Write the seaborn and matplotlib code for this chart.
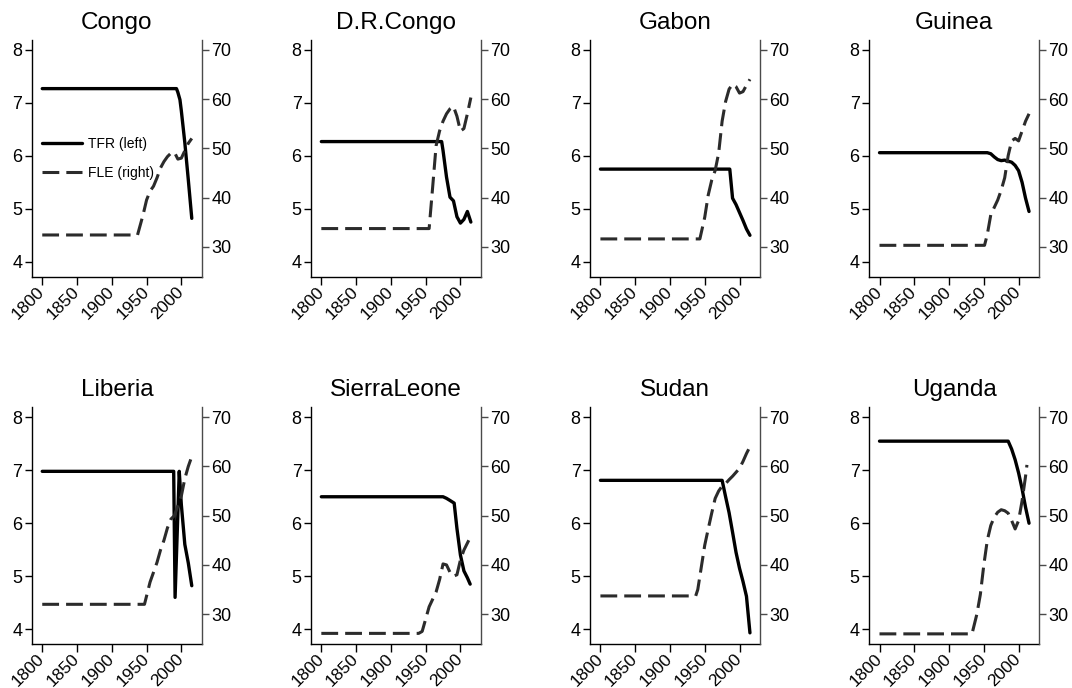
import matplotlib
matplotlib.use("Agg")
import matplotlib.pyplot as plt
from matplotlib.lines import Line2D
import pandas as pd
import seaborn as sns

# Values
countries = ["Congo", "D.R.Congo", "Gabon", "Guinea",
             "Liberia", "SierraLeone", "Sudan", "Uganda"]

congo_tfr_year = [1800, 1993, 1995, 1998, 2000, 2005, 2010, 2015]
congo_tfr = [7.27, 7.27, 7.2, 7.06, 6.85, 6.25, 5.55, 4.82]
congo_fle_year = [1800, 1937, 1945, 1950, 1955, 1960, 1965, 1970, 1975, 1980,
                  1985, 1990, 1995, 2000, 2005, 2010, 2015]
congo_fle = [32.4, 32.4, 36.5, 39.5, 41.3, 42.3, 44, 46, 47.3, 48.3,
             49, 49.2, 47.8, 48, 49.5, 51, 52]

drc_tfr_year = [1800, 1973, 1975, 1980, 1985, 1990, 1995, 2000, 2005, 2010, 2015]
drc_tfr = [6.27, 6.27, 6.1, 5.6, 5.22, 5.15, 4.85, 4.73, 4.8, 4.95, 4.75]
drc_fle_year = [1800, 1955, 1960, 1965, 1970, 1975, 1980, 1985, 1990, 1995,
                2000, 2005, 2010, 2015]
drc_fle = [33.7, 33.7, 42, 50.5, 53.5, 55.5, 57, 58, 58.5, 56.5,
           53.5, 54, 57, 60.3]

gabon_tfr_year = [1800, 1986, 1990, 1995, 2000, 2005, 2010, 2015]
gabon_tfr = [5.75, 5.75, 5.2, 5.08, 4.93, 4.78, 4.62, 4.5]
gabon_fle_year = [1800, 1943, 1950, 1955, 1960, 1965, 1970, 1975, 1980, 1985,
                  1990, 1995, 2000, 2005, 2010, 2015]
gabon_fle = [31.6, 31.6, 36, 40.5, 43.5, 45.5, 49, 55.5, 59.5, 62,
             63, 62.5, 61.2, 61.5, 62.8, 64]

guinea_tfr_year = [1800, 1955, 1960, 1965, 1970, 1975, 1980, 1985, 1990, 1995,
                   2000, 2005, 2010, 2015]
guinea_tfr = [6.06, 6.06, 6.04, 5.98, 5.93, 5.91, 5.92, 5.9, 5.88, 5.82,
              5.72, 5.5, 5.2, 4.95]
guinea_fle_year = [1800, 1951, 1955, 1960, 1965, 1970, 1975, 1980, 1985, 1990,
                   1995, 2000, 2005, 2010, 2015]
guinea_fle = [30.3, 30.3, 32.5, 36.5, 38, 39.5, 41.5, 44, 48.5, 51.5,
              52, 51.5, 53.5, 55.5, 57]

liberia_tfr_year = [1800, 1989, 1991, 1997, 2000, 2005, 2010, 2015]
liberia_tfr = [6.98, 6.98, 4.6, 6.98, 6.35, 5.6, 5.25, 4.82]
liberia_fle_year = [1800, 1947, 1955, 1960, 1965, 1970, 1975, 1980, 1985, 1990,
                    1995, 2000, 2005, 2010, 2015]
liberia_fle = [32, 32, 36.5, 38.5, 40.5, 43, 45, 47.5, 49.3, 50,
               52, 54, 57.5, 60, 62]

sleone_tfr_year = [1800, 1975, 1980, 1985, 1991, 1995, 2000, 2005, 2010, 2014]
sleone_tfr = [6.5, 6.5, 6.47, 6.43, 6.38, 5.9, 5.4, 5.1, 4.97, 4.85]
sleone_fle_year = [1800, 1940, 1945, 1950, 1955, 1960, 1965, 1970, 1975, 1980,
                   1985, 1990, 1995, 2000, 2005, 2012]
sleone_fle = [26.1, 26.1, 26.5, 29, 31.5, 33, 34.5, 37, 40.2, 40,
              38.5, 37.7, 38, 41, 43, 45]

sudan_tfr_year = [1800, 1975, 1980, 1985, 1990, 1995, 2000, 2005, 2010, 2015]
sudan_tfr = [6.81, 6.81, 6.5, 6.2, 5.83, 5.45, 5.15, 4.9, 4.62, 3.93]
sudan_fle_year = [1800, 1937, 1940, 1945, 1950, 1955, 1960, 1965, 1970, 1975,
                  1980, 1985, 1990, 1995, 2000, 2005, 2010, 2015]
sudan_fle = [33.7, 33.7, 35, 39.5, 44, 47.3, 50.5, 53.5, 55, 56,
             56.5, 57.3, 58, 58.8, 59.6, 61, 62.6, 64]

uganda_tfr_year = [1800, 1985, 1990, 1995, 2000, 2005, 2010, 2015]
uganda_tfr = [7.55, 7.55, 7.4, 7.2, 6.95, 6.65, 6.3, 6.0]
uganda_fle_year = [1800, 1933, 1940, 1945, 1950, 1955, 1960, 1965, 1970, 1975,
                   1980, 1985, 1990, 1995, 2000, 2005, 2010, 2012]
uganda_fle = [26, 26, 30, 34, 40, 45, 48, 49.7, 50.7, 51.2,
              51, 50.5, 49, 47.3, 49, 53, 58, 60.3]

year_ticks = [1800, 1850, 1900, 1950, 2000]
tfr_ticks = [4, 5, 6, 7, 8]
fle_ticks = [30, 40, 50, 60, 70]

panels = [
    (congo_tfr_year, congo_tfr, congo_fle_year, congo_fle),
    (drc_tfr_year, drc_tfr, drc_fle_year, drc_fle),
    (gabon_tfr_year, gabon_tfr, gabon_fle_year, gabon_fle),
    (guinea_tfr_year, guinea_tfr, guinea_fle_year, guinea_fle),
    (liberia_tfr_year, liberia_tfr, liberia_fle_year, liberia_fle),
    (sleone_tfr_year, sleone_tfr, sleone_fle_year, sleone_fle),
    (sudan_tfr_year, sudan_tfr, sudan_fle_year, sudan_fle),
    (uganda_tfr_year, uganda_tfr, uganda_fle_year, uganda_fle),
]

sns.set_style("ticks")
plt.rcParams["font.family"] = ["Liberation Sans", "DejaVu Sans"]
plt.rcParams["text.color"] = "black"
plt.rcParams["xtick.color"] = "black"
plt.rcParams["ytick.color"] = "black"
plt.rcParams["axes.linewidth"] = 1.0

fle_dash = (0, (5.5, 2.3))
fle_color = "#2b2b2b"

fig, axes = plt.subplots(2, 4, figsize=(10.72, 6.88), dpi=100)
fig.subplots_adjust(left=0.030, right=0.969, bottom=0.064, top=0.942,
                    wspace=0.648, hspace=0.552)

for ax, name, (ty, tv, fy, fv) in zip(axes.flat, countries, panels):
    tfr_df = pd.DataFrame({"year": ty, "TFR": tv})
    fle_df = pd.DataFrame({"year": fy, "FLE": fv})

    sns.lineplot(data=tfr_df, x="year", y="TFR", ax=ax, color="black", lw=2.4)
    ax2 = ax.twinx()
    sns.lineplot(data=fle_df, x="year", y="FLE", ax=ax2, color=fle_color,
                 lw=2.2, linestyle=fle_dash)

    ax.set_xlim(1785.5, 2029)
    ax.set_ylim(3.72, 8.19)
    ax2.set_ylim(23.95, 72.0)
    ax.set_xticks(year_ticks)
    ax.set_xticklabels([str(y) for y in year_ticks], rotation=45,
                       ha="right", va="center", rotation_mode="anchor")
    ax.set_yticks(tfr_ticks)
    ax2.set_yticks(fle_ticks)
    ax.set_xlabel("")
    ax.set_ylabel("")
    ax2.set_ylabel("")
    ax2.set_xlabel("")

    ax.spines["top"].set_visible(False)
    ax.spines["right"].set_visible(False)
    for s in ["top", "left", "bottom"]:
        ax2.spines[s].set_visible(False)
    ax2.spines["right"].set_color("#4a4a4a")
    ax.spines["left"].set_color("black")
    ax.spines["bottom"].set_color("black")

    ax.tick_params(axis="y", labelsize=13, length=5, width=1,
                   direction="out", color="black", pad=2)
    ax.tick_params(axis="x", labelsize=12.5, length=6, width=1,
                   direction="out", color="black", pad=3)
    ax2.tick_params(labelsize=13, length=5, width=1, direction="out",
                    color="#4a4a4a", pad=2)
    ax.set_title(name, fontsize=17.5, pad=8)

    if name == "Congo":
        handles = [Line2D([], [], color="black", lw=2.4),
                   Line2D([], [], color=fle_color, lw=2.2, linestyle=fle_dash)]
        ax2.legend(handles, ["TFR (left)", "FLE (right)"], loc="center left",
                   bbox_to_anchor=(0.0, 0.5), frameon=False, fontsize=10,
                   handlelength=2.9, handletextpad=0.4, labelspacing=1.1,
                   borderaxespad=0.3)

fig.savefig("out.png", dpi=100)
